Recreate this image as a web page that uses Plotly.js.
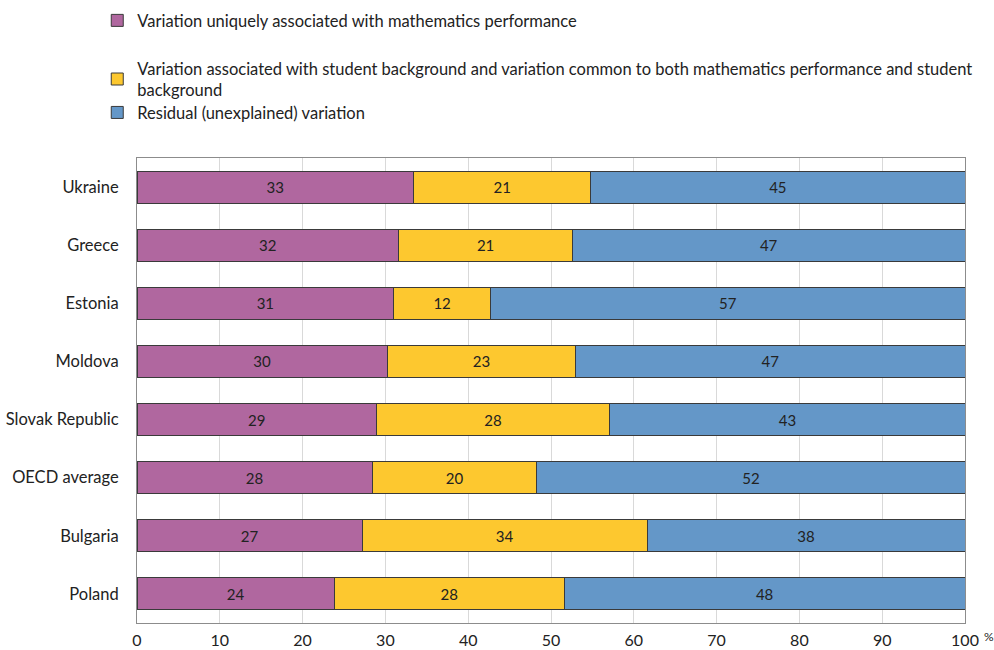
<!DOCTYPE html>
<html>
<head>
<meta charset="utf-8">
<script src="https://cdn.plot.ly/plotly-3.0.1.min.js"></script>
<style>
  html, body { margin: 0; padding: 0; background: #ffffff; }
  #chart { width: 994px; height: 650px; }
</style>
</head>
<body>
<div id="chart"></div>
<script>
// Countries, top to bottom
const countries = ["Ukraine", "Greece", "Estonia", "Moldova", "Slovak Republic", "OECD average", "Bulgaria", "Poland"];

// Share of variance (%) in each component
const uniqueMath   = [33.4, 31.6, 31.0, 30.2, 28.9, 28.4, 27.2, 23.8];
const background   = [21.4, 21.0, 11.7, 22.8, 28.2, 19.9, 34.4, 27.8];
const residual     = [45.2, 47.4, 57.3, 47.0, 42.9, 51.7, 38.4, 48.4];

const seriesNames = [
  "Variation uniquely associated with mathematics performance",
  "Variation associated with student background and variation common to both mathematics performance and student<br>background",
  "Residual (unexplained) variation"
];
const xTicks = [0, 10, 20, 30, 40, 50, 60, 70, 80, 90, 100];

const FONT = "Lato, 'Noto Sans', sans-serif";
const colors = ["#B0679F", "#FDC82F", "#6497C8"];
const legends = ["legend", "legend2", "legend3"];
const values = [uniqueMath, background, residual];

const traces = values.map((vals, i) => ({
  type: "bar",
  orientation: "h",
  x: vals,
  y: countries,
  name: seriesNames[i],
  legend: legends[i],
  marker: { color: colors[i], line: { color: "#3a3a3a", width: 1 } },
  texttemplate: "%{x:.0f}",
  textposition: "inside",
  insidetextanchor: "middle",
  textangle: 0,
  constraintext: "none",
  textfont: { family: FONT, size: 15, color: "#222222" },
  hoverinfo: "x+y+name"
}));

const legendBase = {
  xanchor: "left",
  yanchor: "top",
  bgcolor: "rgba(0,0,0,0)",
  borderwidth: 0,
  font: { family: FONT, size: 16.5, color: "#222222" },
  itemwidth: 30
};

const layout = {
  width: 994,
  height: 650,
  margin: { l: 137, r: 29, t: 158, b: 27, autoexpand: false },
  paper_bgcolor: "#ffffff",
  plot_bgcolor: "#ffffff",
  barmode: "stack",
  bargap: 0.45,
  showlegend: true,
  legend:  Object.assign({}, legendBase, { x: -0.048, y: 1.333 }),
  legend2: Object.assign({}, legendBase, { x: -0.048, y: 1.230 }),
  legend3: Object.assign({}, legendBase, { x: -0.048, y: 1.135 }),
  xaxis: {
    range: [0, 100],
    tickvals: xTicks,
    ticktext: xTicks.map(String),
    showgrid: true,
    gridcolor: "#D9D9D9",
    gridwidth: 1,
    zeroline: false,
    showline: true,
    linecolor: "#8C8C8C",
    linewidth: 1,
    mirror: true,
    ticks: "",
    automargin: false,
    ticklabelstandoff: 3,
    tickfont: { family: FONT, size: 16, color: "#222222" },
    fixedrange: true
  },
  yaxis: {
    type: "category",
    categoryorder: "array",
    categoryarray: countries,
    range: [7.5, -0.5],
    showgrid: false,
    zeroline: false,
    showline: true,
    linecolor: "#8C8C8C",
    linewidth: 1,
    mirror: true,
    ticks: "",
    automargin: false,
    ticklabelstandoff: 14,
    tickfont: { family: FONT, size: 16.5, color: "#222222" },
    fixedrange: true
  },
  annotations: [{
    text: "%",
    xref: "paper", yref: "paper",
    x: 1.029, y: -0.03,
    xanchor: "center", yanchor: "middle",
    showarrow: false,
    font: { family: FONT, size: 12, color: "#222222" }
  }]
};

Plotly.newPlot("chart", traces, layout, { displayModeBar: false, responsive: false });
</script>
</body>
</html>
